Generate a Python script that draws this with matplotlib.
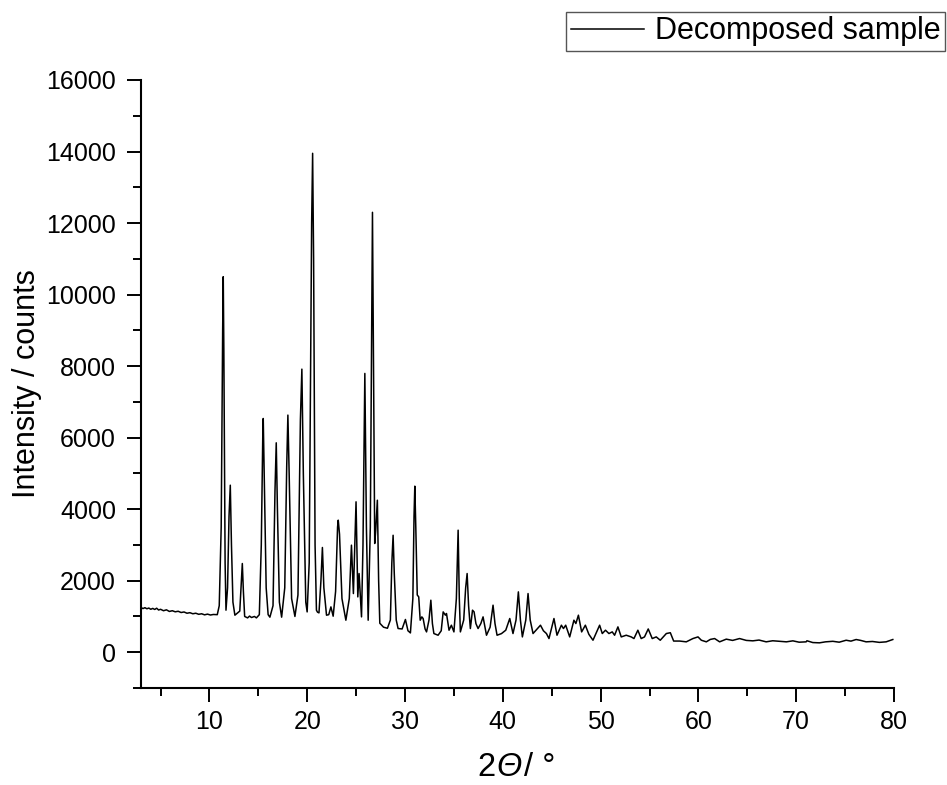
import matplotlib
matplotlib.use('Agg')
import matplotlib.pyplot as plt
from matplotlib.ticker import MultipleLocator
from matplotlib.offsetbox import TextArea, HPacker, AnchoredOffsetbox

plt.rcParams['font.family'] = ['Liberation Sans', 'DejaVu Sans']

# 2theta / intensity pairs
two_theta = [
    3.0, 3.2, 3.4, 3.6, 3.8, 4.0, 4.2, 4.4, 4.6, 4.8, 5.0, 5.3, 5.6, 5.9, 6.2,
    6.5, 6.8, 7.1, 7.4, 7.7, 8.0, 8.3, 8.6, 8.9, 9.2, 9.5, 9.8, 10.1, 10.4, 10.8,
    11.0, 11.2, 11.35, 11.41, 11.47, 11.6, 11.69,
    11.85, 12.0, 12.13, 12.25, 12.4, 12.6,
    13.1, 13.25, 13.36, 13.47, 13.6, 13.9, 14.1, 14.3, 14.6, 14.8, 15.1,
    15.3, 15.45, 15.5, 15.6, 15.8, 16.0, 16.18,
    16.5, 16.7, 16.83, 16.95, 17.15, 17.38,
    17.7, 17.9, 18.02, 18.15, 18.4, 18.74,
    19.05, 19.3, 19.45, 19.6, 19.85, 19.99,
    20.2, 20.45, 20.55, 20.65, 20.8, 20.94, 21.05, 21.2,
    21.4, 21.55, 21.7, 21.97, 22.2, 22.42, 22.65,
    22.9, 23.1, 23.17, 23.3, 23.55, 23.95,
    24.3, 24.52, 24.72, 24.99, 25.17, 25.3, 25.55,
    25.7, 25.89, 26.05, 26.23,
    26.45, 26.67, 26.8, 26.9, 27.0, 27.17, 27.3, 27.42, 27.8, 28.2,
    28.5, 28.65, 28.78, 28.9, 29.1, 29.29, 29.7, 30.04, 30.3, 30.55,
    30.8, 30.92, 31.0, 31.1, 31.25, 31.4, 31.55, 31.72, 31.85, 32.05, 32.2,
    32.45, 32.64, 32.8, 32.95, 33.38, 33.7, 33.9, 34.13, 34.24, 34.5, 34.74,
    35.0, 35.25, 35.43, 35.55, 35.66, 36.0, 36.2, 36.35, 36.5, 36.68,
    36.9, 37.06, 37.25, 37.47, 37.75, 37.98, 38.33, 38.7, 39.0, 39.2, 39.41,
    39.86, 40.3, 40.71, 41.04, 41.35, 41.59, 41.8, 42.0, 42.35, 42.58, 42.8,
    43.09, 43.5, 43.85, 44.15, 44.46, 44.72, 45.23, 45.54, 45.99, 46.2,
    46.43, 46.84, 47.27, 47.47, 47.73, 48.06, 48.44, 48.8, 49.22, 49.9,
    50.17, 50.5, 50.85, 51.19, 51.43, 51.77, 52.11, 52.62, 53.13, 53.41,
    53.81, 54.15, 54.49, 54.87, 55.28, 55.69, 56.1, 56.72, 57.13, 57.47,
    58.08, 58.76, 59.44, 59.96, 60.3, 60.81, 61.22, 61.66, 62.17, 62.85,
    63.5, 64.21, 64.9, 65.57, 66.2, 66.93, 67.6, 68.3, 69.0, 69.66, 70.3,
    71.02, 71.1, 71.7, 72.38, 73.0, 73.75, 74.4, 75.11, 75.6, 76.13, 76.6,
    77.15, 77.8, 78.51, 79.2, 79.88,
]
counts = [
    1250, 1220, 1245, 1215, 1235, 1200, 1225, 1195, 1230, 1180, 1200, 1160, 1185, 1140, 1160,
    1130, 1145, 1110, 1125, 1090, 1105, 1075, 1090, 1060, 1075, 1045, 1065, 1040, 1055, 1050,
    1300, 3500, 9000, 10500, 8500, 2500, 1175,
    1800, 3800, 4670, 3000, 1400, 1035,
    1150, 1900, 2480, 1700, 1000, 960, 1010, 970, 1000, 960, 1050,
    3000, 6000, 6535, 5000, 1800, 1050, 980,
    1300, 4500, 5855, 4000, 1400, 980,
    1800, 5200, 6630, 5000, 1500, 1000,
    1600, 6500, 7915, 5000, 1400, 1127,
    2500, 12000, 13950, 11000, 3000, 1175, 1120, 1100,
    2000, 2928, 1800, 1035, 1050, 1267, 1007,
    1700, 3500, 3692, 3300, 1500, 895,
    1500, 2993, 1640, 4205, 1547, 2200, 988,
    3000, 7795, 3500, 895,
    3500, 12300, 7000, 3040, 3400, 4250, 2000, 810, 700, 670,
    900, 2500, 3270, 2200, 900, 663, 650, 915, 600, 540,
    1500, 3800, 4643, 3500, 1600, 1547, 895, 988, 942, 650, 568,
    900, 1454, 800, 522, 475, 600, 1127, 1035, 1082, 615, 755,
    568, 1500, 3412, 1500, 568, 900, 1800, 2200, 1300, 662,
    1175, 1128, 800, 662, 800, 988, 475, 700, 1315, 800, 475,
    520, 615, 942, 522, 900, 1687, 900, 428, 900, 1640, 900,
    522, 650, 755, 600, 522, 382, 942, 475, 755, 662,
    755, 428, 895, 802, 1035, 568, 755, 500, 335, 755,
    522, 615, 522, 568, 475, 708, 428, 475, 428, 382,
    615, 382, 428, 650, 382, 428, 335, 522, 545, 312,
    312, 290, 382, 428, 335, 290, 358, 382, 290, 365,
    330, 382, 330, 318, 340, 290, 320, 305, 290, 318, 280,
    290, 320, 270, 262, 290, 305, 280, 335, 310, 355, 330,
    290, 300, 275, 290, 355,
]

fig = plt.figure(figsize=(9.47, 7.85), dpi=100)
ax = fig.add_axes([0.1489, 0.1236, 0.7951, 0.7745])

ax.plot(two_theta, counts, color='black', linewidth=1.1, label='Decomposed sample')

ax.set_xlim(3, 80)
ax.set_ylim(-1000, 16000)
ax.xaxis.set_major_locator(MultipleLocator(10))
ax.xaxis.set_minor_locator(MultipleLocator(5))
ax.yaxis.set_major_locator(MultipleLocator(2000))
ax.yaxis.set_minor_locator(MultipleLocator(1000))

for side in ['top', 'right']:
    ax.spines[side].set_visible(False)
for side in ['left', 'bottom']:
    ax.spines[side].set_linewidth(1.5)

ax.tick_params(which='major', direction='out', length=10, width=1.4, labelsize=18)
ax.tick_params(axis='x', which='major', pad=6)
ax.tick_params(axis='y', which='major', pad=8)
ax.tick_params(which='minor', direction='out', length=5.5, width=1.4)

ax.set_ylabel('Intensity / counts', fontsize=22, labelpad=3)

# x label: upright "2", italic Theta, upright "/ °"
parts = [TextArea('2', textprops=dict(fontsize=23.5)),
         TextArea('\u0398', textprops=dict(fontsize=23.5, style='italic')),
         TextArea('/ °', textprops=dict(fontsize=23.5))]
xlab = AnchoredOffsetbox(loc='center', child=HPacker(children=parts, pad=0, sep=1),
                         bbox_to_anchor=(0.545, 0.022), bbox_transform=fig.transFigure,
                         frameon=False, pad=0, borderpad=0)
fig.add_artist(xlab)

fig.legend(loc='upper right', bbox_to_anchor=(0.998, 0.985), fontsize=22,
           frameon=True, fancybox=False, edgecolor='#555555', framealpha=1,
           handlelength=2.4, handletextpad=0.35, borderpad=0.15, borderaxespad=0)

fig.savefig('out.png', dpi=100)
